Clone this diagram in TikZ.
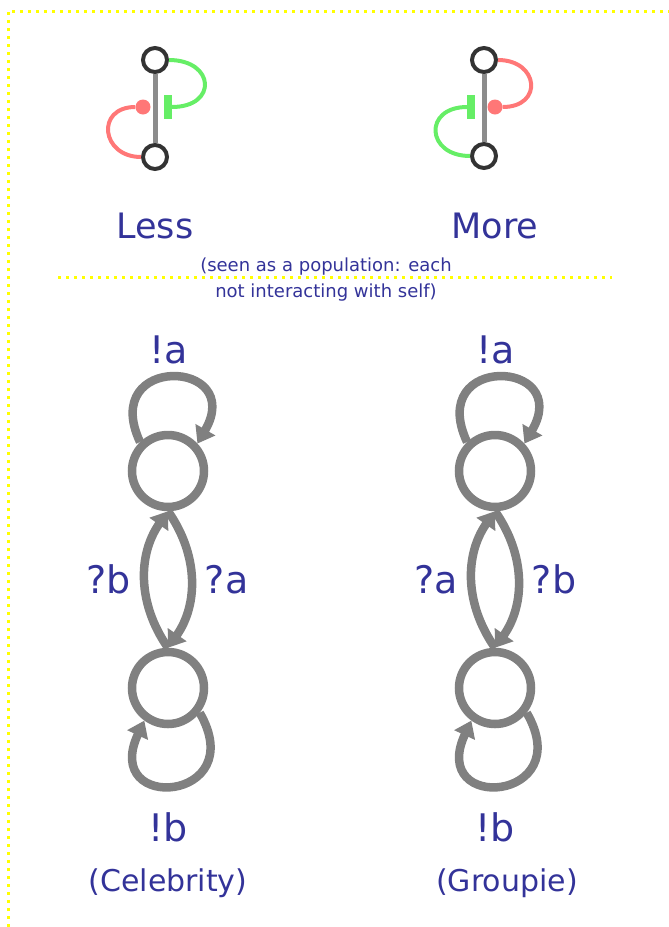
\documentclass[tikz,border=0pt]{standalone}
\usepackage{fontspec}
\setmainfont{DejaVu Sans}
\usetikzlibrary{arrows.meta, positioning}

\definecolor{txtblue}{RGB}{51,51,153}
\definecolor{edgegray}{RGB}{128,128,128}
\definecolor{actgreen}{RGB}{102,238,102}
\definecolor{repred}{RGB}{255,119,119}
\definecolor{dotyellow}{RGB}{255,255,0}

\begin{document}
\begin{tikzpicture}[
  x=1pt, y=1pt,
  every node/.style={align=center, text=txtblue},
  gnode/.style={draw=black!80, line width=4pt, circle, fill=white,
                minimum size=24pt, inner sep=0pt},
  gbar/.style={draw=gray!90, line width=5pt},
  tbar/.style={rectangle, fill=actgreen, draw=none, minimum width=7.5pt,
               minimum height=24pt, inner sep=0pt},
  rdot/.style={circle, fill=repred, draw=none, minimum size=15pt, inner sep=0pt},
  act/.style={draw=actgreen, line width=4pt},
  rep/.style={draw=repred, line width=4pt},
  st/.style={draw=edgegray, line width=8.5pt, circle, minimum size=72pt, inner sep=0pt},
  arr/.style={-{Triangle[length=16pt,width=22pt]}, draw=edgegray, line width=8.5pt},
  lab/.style={font=\fontsize{38}{40}\selectfont, inner sep=0pt, outer sep=0pt},
  caption/.style={font=\fontsize{30}{34}\selectfont, inner sep=0pt, outer sep=0pt},
  big/.style={font=\fontsize{35}{40}\selectfont, inner sep=0pt, outer sep=0pt},
  note/.style={font=\fontsize{18}{26}\selectfont, inner sep=0pt},
  dots/.style={draw=dotyellow, line width=3pt, dash pattern=on 3pt off 5pt}
]
\useasboundingbox (0,0) rectangle (669,-927);

% frame and separator
\draw[dots] (8,-927) -- (8,-11) -- (669,-11);
\draw[dots] (58,-277) -- (612,-277);

% gadgets
\node[gnode] (lt) at (155,-60) {};
\node[gnode] (lb) at (155,-157) {};
\draw[gbar] (lt) -- (lb);
\node[tbar] (lbar) at (168,-107) {};
\node[rdot] (ldot) at (143,-107) {};
\draw[act] (lt.east) .. controls +(46,0) and +(46,0) .. (lbar.east);
\draw[rep] (lb.west) .. controls +(-40,0) and +(-40,0) .. (ldot.west);
\node[big, below=42pt of lb] (less) {Less};

\node[gnode] (mt) at (484,-60) {};
\node[gnode] (mb) at (484,-156) {};
\draw[gbar] (mt) -- (mb);
\node[tbar] (mbar) at (471,-107) {};
\node[rdot] (mdot) at (495,-107) {};
\draw[rep] (mt.east) .. controls +(41,0) and +(41,0) .. (mdot.east);
\draw[act] (mb.west) .. controls +(-44,0) and +(-44,0) .. (mbar.west);
\node[big, below=43pt of mb, xshift=11pt] (more) {More};

\node[note] (pop) at (326,-280) {(seen as a population: each\\not interacting with self)};

% celebrity
\node[st] (ct) at (168,-471) {};
\node[st] (cb) at (168,-688) {};
\draw[arr] (ct.134) .. controls +(115:98) and +(60:98) .. (ct.43)
  node[lab, midway, above=14pt, xshift=-3pt] (cla) {!a};
\draw[arr] (cb.-38) .. controls +(-60:103) and +(-115:103) .. (cb.-126)
  node[lab, midway, below=27pt, xshift=-7pt] (clb) {!b};
\draw[arr] (cb.north) to[bend left=35] node[lab,left=14pt] (cqb) {?b} (ct.south);
\draw[arr] (ct.south) to[bend left=35] node[lab,right=14pt] (cqa) {?a} (cb.north);
\node[caption, below=27pt of clb] (celeb) {(Celebrity)};

% groupie
\node[st] (gt) at (495,-471) {};
\node[st] (gb) at (495,-688) {};
\draw[arr] (gt.134) .. controls +(115:98) and +(60:98) .. (gt.43)
  node[lab, midway, above=14pt, xshift=-3pt] (gla) {!a};
\draw[arr] (gb.-38) .. controls +(-60:103) and +(-115:103) .. (gb.-126)
  node[lab, midway, below=27pt, xshift=-7pt] (glb) {!b};
\draw[arr] (gb.north) to[bend left=35] node[lab,left=14pt] (gqa) {?a} (gt.south);
\draw[arr] (gt.south) to[bend left=35] node[lab,right=14pt] (gqb) {?b} (gb.north);
\node[caption, below=27pt of glb, xshift=12pt] (group) {(Groupie)};
\end{tikzpicture}
\end{document}
